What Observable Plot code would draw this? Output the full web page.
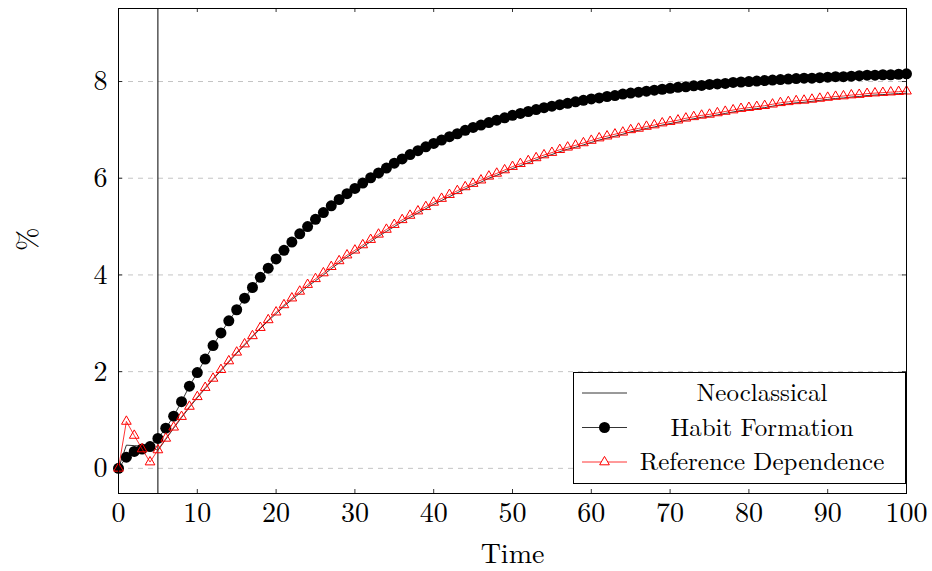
<!DOCTYPE html>
<html>
<head>
<meta charset="utf-8">
<script src="https://cdn.jsdelivr.net/npm/d3@7"></script>
<script src="https://cdn.jsdelivr.net/npm/@observablehq/plot@0.6"></script>
<style>
  html, body { margin: 0; padding: 0; background: white; }
  #wrap { position: relative; width: 932px; height: 571px; }
  #legend { position: absolute; left: 573px; top: 372px; width: 333px; height: 112px;
            box-sizing: border-box; border: 1px solid black; background: white; }
  #legend svg { position: absolute; left: -1px; top: -1px; }
</style>
</head>
<body>
<div id="wrap"><div id="chart"></div><div id="legend"></div></div>
<script>
const FONT = "'Latin Modern Roman','CMU Serif','Liberation Serif','Times New Roman',serif";

const time = [
  0, 1, 2, 3, 4, 5, 6, 7, 8, 9,
  10, 11, 12, 13, 14, 15, 16, 17, 18, 19,
  20, 21, 22, 23, 24, 25, 26, 27, 28, 29,
  30, 31, 32, 33, 34, 35, 36, 37, 38, 39,
  40, 41, 42, 43, 44, 45, 46, 47, 48, 49,
  50, 51, 52, 53, 54, 55, 56, 57, 58, 59,
  60, 61, 62, 63, 64, 65, 66, 67, 68, 69,
  70, 71, 72, 73, 74, 75, 76, 77, 78, 79,
  80, 81, 82, 83, 84, 85, 86, 87, 88, 89,
  90, 91, 92, 93, 94, 95, 96, 97, 98, 99,
  100
];

const neoclassical = [
  0, 0.48, 0.47, 0.46, 0.45, 0.37, 0.60, 0.83, 1.05, 1.26,
  1.46, 1.65, 1.84, 2.02, 2.20, 2.38, 2.55, 2.72, 2.89, 3.05,
  3.20, 3.35, 3.49, 3.62, 3.76, 3.88, 4.00, 4.13, 4.25, 4.37,
  4.47, 4.58, 4.69, 4.80, 4.90, 5.00, 5.10, 5.19, 5.28, 5.37,
  5.46, 5.54, 5.62, 5.70, 5.78, 5.85, 5.92, 6.00, 6.06, 6.13,
  6.20, 6.26, 6.32, 6.38, 6.44, 6.49, 6.55, 6.60, 6.64, 6.69,
  6.74, 6.79, 6.83, 6.87, 6.91, 6.96, 6.99, 7.03, 7.06, 7.10,
  7.13, 7.16, 7.20, 7.23, 7.26, 7.28, 7.31, 7.34, 7.37, 7.40,
  7.42, 7.44, 7.46, 7.49, 7.52, 7.54, 7.56, 7.57, 7.59, 7.61,
  7.63, 7.65, 7.66, 7.68, 7.69, 7.71, 7.72, 7.73, 7.74, 7.75,
  7.76
];

const habitFormation = [
  0, 0.23, 0.35, 0.40, 0.45, 0.62, 0.83, 1.08, 1.38, 1.70,
  1.98, 2.26, 2.54, 2.80, 3.05, 3.28, 3.52, 3.74, 3.95, 4.14,
  4.33, 4.51, 4.68, 4.85, 5.00, 5.15, 5.29, 5.43, 5.56, 5.68,
  5.79, 5.90, 6.01, 6.11, 6.21, 6.31, 6.40, 6.49, 6.57, 6.65,
  6.72, 6.79, 6.86, 6.92, 6.99, 7.05, 7.10, 7.15, 7.20, 7.25,
  7.30, 7.34, 7.38, 7.42, 7.46, 7.49, 7.52, 7.55, 7.58, 7.61,
  7.64, 7.66, 7.69, 7.71, 7.74, 7.76, 7.78, 7.80, 7.82, 7.84,
  7.86, 7.88, 7.89, 7.91, 7.92, 7.94, 7.95, 7.96, 7.98, 7.99,
  8.00, 8.01, 8.02, 8.03, 8.04, 8.05, 8.06, 8.07, 8.07, 8.08,
  8.09, 8.10, 8.10, 8.11, 8.12, 8.13, 8.13, 8.14, 8.14, 8.15,
  8.16
];

const referenceDependence = [
  0, 0.97, 0.68, 0.40, 0.13, 0.38, 0.62, 0.85, 1.07, 1.28,
  1.48, 1.67, 1.86, 2.04, 2.22, 2.40, 2.57, 2.74, 2.91, 3.07,
  3.23, 3.38, 3.52, 3.66, 3.80, 3.92, 4.04, 4.17, 4.29, 4.41,
  4.51, 4.62, 4.73, 4.84, 4.94, 5.04, 5.14, 5.23, 5.32, 5.41,
  5.50, 5.58, 5.66, 5.74, 5.82, 5.89, 5.96, 6.04, 6.10, 6.17,
  6.24, 6.30, 6.36, 6.42, 6.48, 6.53, 6.59, 6.64, 6.68, 6.73,
  6.78, 6.83, 6.87, 6.91, 6.95, 7.00, 7.03, 7.07, 7.10, 7.14,
  7.17, 7.20, 7.24, 7.27, 7.30, 7.32, 7.35, 7.38, 7.41, 7.44,
  7.46, 7.48, 7.50, 7.53, 7.56, 7.58, 7.60, 7.61, 7.63, 7.65,
  7.67, 7.69, 7.70, 7.72, 7.73, 7.75, 7.76, 7.77, 7.78, 7.79,
  7.80
];

const xTicks = [0, 10, 20, 30, 40, 50, 60, 70, 80, 90, 100];
const yTicks = [0, 2, 4, 6, 8];
const markerLine = [5];
const seriesNames = ["Neoclassical", "Habit Formation", "Reference Dependence"];
const xLabel = "Time";
const yLabel = "%";

const rows = time.map((t, i) => ({
  t, neo: neoclassical[i], habit: habitFormation[i], ref: referenceDependence[i]
}));

const W = 932, H = 571, mL = 118, mR = 26, mT = 8, mB = 78;
const iW = W - mL - mR, iH = H - mT - mB, TL = 4;

const chart = Plot.plot({
  width: W, height: H,
  marginLeft: mL, marginRight: mR, marginTop: mT, marginBottom: mB,
  x: {domain: [0, 100]},
  y: {domain: [-0.52, 9.51]},
  style: {fontFamily: FONT, fontSize: "28px", color: "black", background: "white", overflow: "visible"},
  marks: [
    Plot.ruleY(yTicks, {y: d => d, stroke: "#c4c4c4", strokeWidth: 1, strokeDasharray: "5,5"}),
    Plot.ruleX(markerLine, {x: d => d, stroke: "black", strokeWidth: 1}),
    Plot.ruleX(xTicks, {x: d => d, insetTop: iH - TL, stroke: "black", strokeWidth: 0.8}),
    Plot.ruleX(xTicks, {x: d => d, insetBottom: iH - TL, stroke: "black", strokeWidth: 0.8}),
    Plot.ruleY(yTicks, {y: d => d, insetRight: iW - TL, stroke: "black", strokeWidth: 0.8}),
    Plot.ruleY(yTicks, {y: d => d, insetLeft: iW - TL, stroke: "black", strokeWidth: 0.8}),
    Plot.line(rows, {x: "t", y: "neo", stroke: "black", strokeWidth: 0.8}),
    Plot.line(rows, {x: "t", y: "habit", stroke: "black", strokeWidth: 0.8}),
    Plot.dot(rows, {x: "t", y: "habit", r: 5.5, fill: "black", stroke: "none"}),
    Plot.line(rows, {x: "t", y: "ref", stroke: "red", strokeWidth: 0.8}),
    Plot.dot(rows, {x: "t", y: "ref", symbol: "triangle", r: 3.6, stroke: "red", fill: "none", strokeWidth: 1}),
    Plot.axisX({ticks: xTicks, tickSize: 0, tickPadding: 9, fontSize: 28, label: null, fill: "black"}),
    Plot.axisY({ticks: yTicks, tickSize: 0, tickPadding: 11, fontSize: 28, label: null, fill: "black"}),
    Plot.text([xLabel], {text: d => d, frameAnchor: "bottom", dy: 69, fontSize: 28, fill: "black"}),
    Plot.text([yLabel], {text: d => d, frameAnchor: "left", dx: -90, rotate: -90, fontSize: 28, fill: "black"}),
    Plot.frame({stroke: "black", strokeWidth: 1})
  ]
});
document.getElementById("chart").appendChild(chart);

// Legend
const lw = 333, lh = 112;
const lsvg = d3.select("#legend").append("svg").attr("width", lw).attr("height", lh)
  .style("font-family", FONT).style("font-size", "25px");
const rowY = [21, 55.5, 90];
const sx0 = 9, sx1 = 54, smid = (sx0 + sx1) / 2, tx = 189;
const styles = [
  {stroke: "black", marker: null},
  {stroke: "black", marker: "circle"},
  {stroke: "red", marker: "triangle"}
];
seriesNames.forEach((name, i) => {
  const y = rowY[i], s = styles[i];
  lsvg.append("line").attr("x1", sx0).attr("x2", sx1).attr("y1", y).attr("y2", y)
    .attr("stroke", s.stroke).attr("stroke-width", 0.8);
  if (s.marker === "circle") {
    lsvg.append("circle").attr("cx", smid).attr("cy", y).attr("r", 5.5).attr("fill", "black");
  } else if (s.marker === "triangle") {
    lsvg.append("path").attr("transform", `translate(${smid},${y})`)
      .attr("d", d3.symbol(d3.symbolTriangle, Math.PI * 3.6 * 3.6)())
      .attr("fill", "white").attr("stroke", "red").attr("stroke-width", 1);
  }
  lsvg.append("text").attr("x", tx).attr("y", y).attr("text-anchor", "middle")
    .attr("dy", "0.33em").attr("fill", "black").text(name);
});
</script>
</body>
</html>
